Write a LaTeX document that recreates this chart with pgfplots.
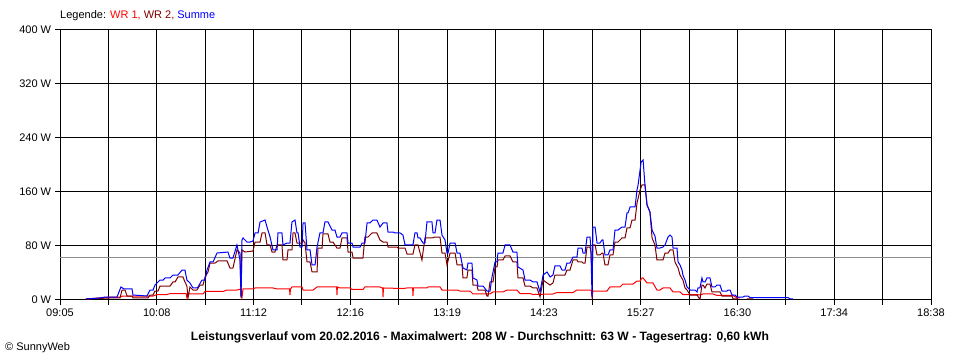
\documentclass[border=0pt]{standalone}
\usepackage{fontspec}
\setmainfont{Liberation Sans}
\usepackage{pgfplots}
\pgfplotsset{compat=1.18}
\definecolor{wrone}{HTML}{FF0000}
\definecolor{wrtwo}{HTML}{800000}
\definecolor{summe}{HTML}{0000FF}
\definecolor{avg}{HTML}{8C8C8C}
\begin{document}
\fontsize{11bp}{13bp}\selectfont
\begin{tikzpicture}
\useasboundingbox (0,0) rectangle (960bp,360bp);
\begin{axis}[
  at={(60bp,60bp)}, anchor=south west,
  scale only axis, width=871bp, height=270bp,
  xmin=545, xmax=1118, ymin=0, ymax=400,
  xtick={545,576.8333,608.6667,640.5,672.3333,704.1667,736,767.8333,799.6667,831.5,863.3333,895.1667,927,958.8333,990.6667,1022.5,1054.3333,1086.1667,1118},
  xticklabels={09:05,,10:08,,11:12,,12:16,,13:19,,14:23,,15:27,,16:30,,17:34,,18:38},
  ytick={0,80,160,240,320,400},
  yticklabels={0 W,80 W,160 W,240 W,320 W,400 W},
  xtick pos=bottom, ytick pos=left,
  grid=major, major grid style={black, line width=1bp},
  axis line style={black, line width=1bp},
  tick align=outside, major tick length=5bp,
  tick style={black, line width=1bp},
  tick label style={font=\fontsize{11bp}{13bp}\selectfont},
  unbounded coords=jump,
  every axis plot/.append style={line width=1bp, sharp plot, mark=none},
]
\addplot[avg] coordinates {(545,63)(1118,63)};
\addplot[wrone] coordinates {
(562.1,1.5)(577.9,4.4)(584.5,4.4)(586.4,5.9)(606.2,5.9)(608.8,8.1)(615.4,8.1)(617.4,9.6)(628.0,9.6)(628.5,3.0)(629.2,9.6)(630.5,8.9)(639.1,8.9)(640.4,12.6)(652.2,12.6)(654.9,14.8)(661.4,14.8)(664.1,16.3)(664.7,3.0)(665.4,16.3)(672.0,16.3)(673.3,17.8)(685.1,17.8)(687.8,16.3)(696.0,16.3)(696.3,7.4)(696.6,16.3)(697.6,19.3)(704.2,19.3)(704.9,14.8)(711.5,14.8)(714.1,19.3)(727.0,19.3)(727.2,7.4)(727.5,19.3)(729.2,17.8)(735.8,17.8)(737.1,15.6)(744.3,15.6)(745.6,19.3)(755.5,19.3)(756.8,17.8)(757.3,17.8)(757.5,4.4)(757.8,17.8)(770.6,17.0)(773.3,17.8)(777.0,17.8)(777.2,5.9)(777.5,17.8)(786.4,17.8)(787.1,19.3)(795.0,19.3)(796.3,14.8)(806.2,14.8)(808.1,13.3)(814.7,13.3)(816.7,8.9)(827.9,8.9)(829.9,11.9)(836.4,11.9)(839.1,14.8)(845.6,14.8)(847.6,9.6)(854.2,9.6)(856.2,8.1)(869.3,8.9)(872.0,11.1)(882.5,11.1)(885.1,14.8)(894.5,14.8)(895.0,4.4)(895.6,13.3)(904.8,13.3)(906.8,19.3)(913.4,19.3)(915.4,23.7)(922.0,23.7)(924.6,28.1)(926.6,28.1)(927.9,32.6)(928.6,32.6)(931.2,25.2)(935.1,25.2)(937.7,14.8)(939.7,14.8)(941.7,17.8)(946.3,17.8)(948.3,11.9)(952.9,11.9)(954.8,8.1)(964.1,8.1)(966.0,7.4)(968.0,8.9)(974.6,8.9)(977.2,6.7)(987.8,6.7)(990.4,3.0)(992.4,3.0)
};
\addplot[wrtwo] coordinates {
(562.1,1.5)(577.9,3.0)(584.5,3.0)(585.8,14.8)(587.8,14.8)(589.1,5.9)(592.4,5.9)(593.0,3.0)(602.9,3.0)(604.2,7.4)(606.2,7.4)(607.5,13.3)(609.5,13.3)(610.8,20.7)(617.4,20.7)(619.3,26.7)(620.7,26.7)(622.6,34.1)(625.9,34.1)(627.2,26.7)(628.5,20.7)(629.2,3.0)(630.5,19.3)(632.5,14.8)(635.1,14.8)(637.1,22.2)(639.1,22.2)(640.4,34.1)(642.4,41.5)(643.7,54.8)(647.0,54.8)(648.9,57.8)(654.9,57.8)(656.8,47.4)(658.8,47.4)(661.4,74.1)(663.4,70.0)(664.1,3.0)(664.7,74.1)(666.7,71.1)(672.0,72.6)(673.3,85.9)(676.6,85.9)(677.9,99.3)(679.9,99.3)(681.2,81.5)(683.2,81.5)(684.5,71.1)(686.4,71.1)(687.8,81.5)(691.0,81.5)(691.7,59.3)(694.3,59.3)(695.0,74.1)(697.6,74.1)(698.3,99.3)(699.6,99.3)(700.9,84.4)(704.2,84.4)(704.9,88.9)(706.2,84.4)(707.5,56.3)(709.5,56.3)(710.8,41.5)(714.1,41.5)(714.7,77.0)(717.4,77.0)(718.0,97.8)(721.3,97.8)(722.6,85.9)(724.6,85.9)(727.2,77.0)(729.2,77.0)(730.5,91.9)(733.8,91.9)(734.5,71.1)(737.1,71.1)(737.8,62.2)(744.3,62.2)(745.6,93.3)(747.6,93.3)(750.3,99.3)(753.5,99.3)(755.5,88.9)(757.5,85.9)(760.1,85.9)(760.8,78.5)(766.7,78.5)(767.4,77.0)(772.0,77.0)(773.3,68.1)(777.2,68.1)(778.5,81.5)(780.5,81.5)(783.1,59.3)(785.1,91.9)(789.7,91.9)(791.7,93.3)(795.0,93.3)(796.3,69.6)(798.3,69.6)(799.6,51.9)(801.6,69.6)(804.9,69.6)(806.2,51.9)(809.5,51.9)(810.1,32.6)(812.7,32.6)(813.4,44.4)(816.0,44.4)(816.7,22.2)(819.3,22.2)(820.0,14.8)(824.6,14.8)(825.9,5.9)(826.6,5.9)(827.9,26.7)(829.9,26.7)(831.2,48.9)(832.5,48.9)(833.1,59.3)(836.4,59.3)(837.8,65.2)(841.0,65.2)(843.0,56.3)(845.6,56.3)(846.3,32.6)(849.6,32.6)(850.9,20.7)(854.2,20.7)(856.2,17.8)(858.8,17.8)(860.8,4.4)(862.8,29.6)(865.4,25.2)(867.4,22.2)(869.3,25.2)(870.6,37.0)(877.2,37.0)(878.5,44.4)(880.5,44.4)(882.5,59.3)(885.1,59.3)(885.8,56.3)(888.4,56.3)(889.1,54.8)(890.4,54.8)(891.7,78.5)(893.7,78.5)(894.3,70.0)(895.0,34.1)(895.6,81.5)(897.0,81.5)(898.3,66.7)(900.2,66.7)(901.6,69.6)(902.2,69.6)(903.5,51.9)(905.5,51.9)(906.8,66.7)(908.8,66.7)(910.1,85.9)(912.1,85.9)(914.7,91.9)(916.7,91.9)(918.0,106.7)(920.0,106.7)(921.3,118.5)(923.3,118.5)(924.6,143.7)(926.6,163.0)(927.9,170.4)(929.9,170.4)(931.2,140.7)(933.1,130.4)(934.5,91.9)(936.4,81.5)(937.7,59.3)(941.7,59.3)(943.0,69.6)(945.0,69.6)(946.3,74.1)(948.3,74.1)(949.6,56.3)(951.6,47.4)(952.9,37.0)(954.8,29.6)(956.2,17.8)(957.5,14.8)(959.5,7.4)(964.1,7.4)(966.0,0.5)(967.3,22.2)(968.0,22.2)(969.3,17.8)(970.6,23.7)(972.6,23.7)(973.9,11.9)(979.2,11.9)(980.5,5.9)(987.1,5.9)(987.8,1.5)(991.0,1.5)(993.0,nan)(996.9,1.5)(1000.9,1.5)
};
\addplot[summe] coordinates {
(562.1,1.5)(571.3,3.0)(574.6,4.4)(582.5,4.4)(585.1,19.3)(587.1,16.3)(592.4,16.3)(593.0,7.4)(602.2,5.9)(604.2,14.8)(606.2,14.8)(607.5,22.2)(610.8,29.6)(612.8,29.6)(614.1,32.6)(617.4,32.6)(619.3,37.0)(622.6,37.0)(625.3,44.4)(627.2,44.4)(628.5,29.6)(630.5,25.2)(632.5,17.8)(635.1,17.8)(635.8,19.3)(638.4,29.6)(640.4,29.6)(641.7,44.4)(643.7,56.3)(645.7,56.3)(648.3,69.6)(655.5,71.1)(656.8,62.2)(658.8,62.2)(661.4,81.5)(663.4,59.3)(664.1,4.4)(664.7,88.9)(665.4,91.9)(668.0,85.9)(670.0,85.9)(672.0,87.4)(673.3,99.3)(675.3,99.3)(676.6,115.6)(679.9,118.5)(681.2,108.1)(683.2,93.3)(685.1,74.1)(687.8,74.1)(688.4,99.3)(691.0,99.3)(691.7,81.5)(694.3,84.4)(696.3,84.4)(697.6,115.6)(699.6,118.5)(700.9,99.3)(701.6,99.3)(702.9,78.5)(704.2,78.5)(704.9,114.1)(706.2,114.1)(707.5,74.1)(709.5,74.1)(710.8,51.9)(712.8,51.9)(714.1,78.5)(716.0,99.3)(718.0,99.3)(719.3,115.6)(721.3,115.6)(723.9,103.7)(725.9,103.7)(727.2,93.3)(729.2,93.3)(730.5,99.3)(733.8,99.3)(734.5,84.4)(737.1,84.4)(737.8,78.5)(742.4,78.5)(743.7,84.4)(745.6,84.4)(747.0,114.1)(748.9,114.1)(750.9,118.5)(753.5,118.5)(755.5,108.1)(757.5,114.1)(760.1,114.1)(760.8,100.7)(764.1,100.7)(765.4,99.3)(768.7,99.3)(770.6,96.3)(772.0,81.5)(777.2,81.5)(778.5,99.3)(779.9,99.3)(780.5,91.9)(781.8,91.9)(783.8,84.4)(785.1,84.4)(786.4,115.6)(789.7,115.6)(790.4,99.3)(791.7,99.3)(793.0,118.5)(795.0,118.5)(796.3,96.3)(798.3,88.9)(799.6,69.6)(800.3,69.6)(801.6,84.4)(804.9,84.4)(806.2,69.6)(808.1,69.6)(810.1,47.4)(812.7,44.4)(813.4,54.8)(816.0,54.8)(816.7,32.6)(819.3,29.6)(820.0,20.7)(823.3,20.7)(825.9,13.3)(827.9,13.3)(829.2,34.1)(831.2,56.3)(832.5,56.3)(833.1,69.6)(836.4,69.6)(837.8,81.5)(841.0,81.5)(843.0,71.1)(845.6,71.1)(846.3,48.9)(849.6,44.4)(850.9,29.6)(854.2,29.6)(856.2,26.7)(858.8,26.7)(860.8,11.9)(862.8,37.0)(865.4,41.5)(867.4,34.1)(869.3,37.0)(870.6,50.4)(873.9,50.4)(875.3,44.4)(877.2,44.4)(878.5,54.8)(880.5,54.8)(882.5,63.7)(885.1,63.7)(885.8,77.0)(888.4,77.0)(889.1,69.6)(890.4,69.6)(891.7,93.3)(893.7,93.3)(894.3,74.1)(895.0,4.4)(895.6,108.1)(897.0,108.1)(898.3,84.4)(900.2,84.4)(901.6,88.9)(902.2,88.9)(903.5,66.7)(905.5,66.7)(906.8,74.1)(908.8,74.1)(910.1,103.7)(912.1,103.7)(914.7,108.1)(916.7,108.1)(918.0,128.9)(918.7,128.9)(920.0,137.8)(923.3,137.8)(924.6,163.0)(925.3,170.4)(926.6,192.6)(927.3,204.4)(928.6,207.4)(929.9,167.4)(931.2,140.7)(933.1,130.4)(934.5,103.7)(936.4,94.8)(937.7,77.0)(939.7,77.0)(941.7,78.5)(943.0,81.5)(945.0,93.3)(946.3,96.3)(947.6,93.3)(948.3,77.0)(950.9,77.0)(951.6,56.3)(952.9,51.9)(954.2,44.4)(954.8,37.0)(956.2,29.6)(957.5,19.3)(959.5,14.8)(962.7,14.8)(964.1,11.9)(964.7,17.8)(966.0,17.8)(967.3,32.6)(968.0,26.7)(969.3,26.7)(970.6,32.6)(972.6,32.6)(973.9,19.3)(975.9,19.3)(977.2,22.2)(979.2,22.2)(980.5,13.3)(983.8,13.3)(984.5,14.8)(985.8,14.8)(987.1,7.4)(989.1,7.4)(990.4,4.4)(994.3,4.4)(995.6,5.9)(997.6,5.9)(998.9,3.7)(1024.0,3.7)(1025.2,1.5)(1027.2,1.5)
};
\end{axis}
\node[anchor=west, inner sep=0pt] at (60bp,344bp) {Legende: \textcolor{wrone}{WR 1,} \textcolor{wrtwo}{WR 2,} \textcolor{summe}{Summe}};
\node[anchor=center, inner sep=0pt] at (480bp,23bp) {\fontsize{12.1bp}{14bp}\selectfont\bfseries Leistungsverlauf vom 20.02.2016 - Maximalwert: 208 W - Durchschnitt: 63 W - Tagesertrag: 0,60 kWh};
\node[anchor=west, inner sep=0pt] at (5bp,12bp) {\textcopyright\ SunnyWeb};
\end{tikzpicture}
\end{document}
